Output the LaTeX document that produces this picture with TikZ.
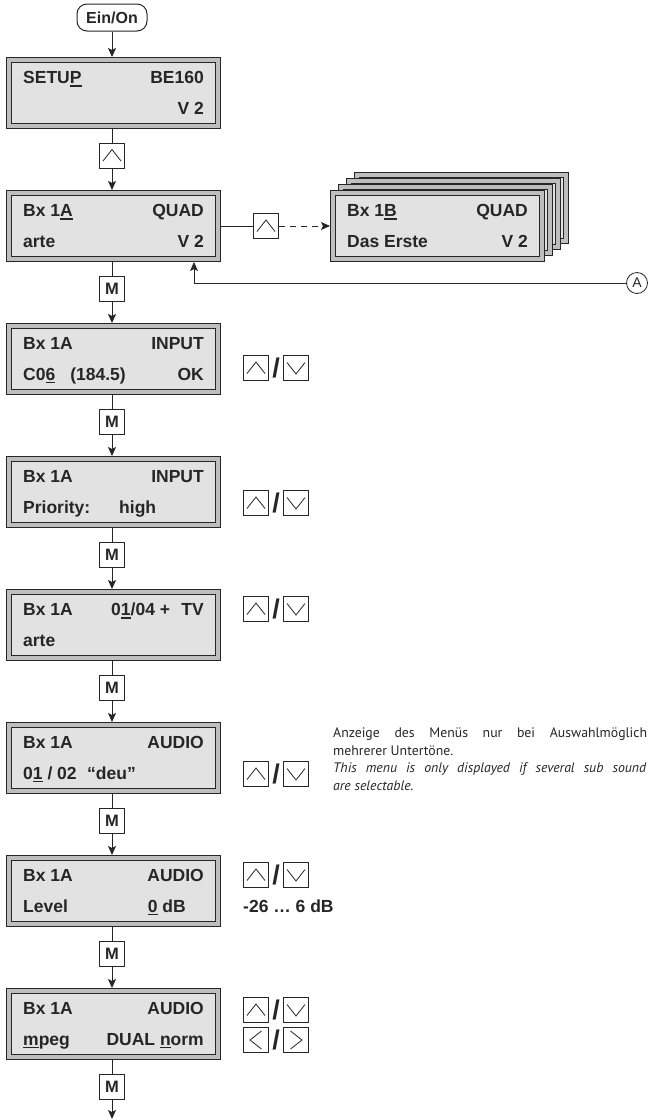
\documentclass[tikz,border=0pt]{standalone}
\usepackage{fontspec}
\setmainfont{Liberation Sans}
\newfontfamily\notefont{PT Sans}
\usetikzlibrary{arrows.meta,positioning}
\definecolor{lcdfill}{RGB}{226,226,226}
\definecolor{lcdrim}{RGB}{190,190,190}
\definecolor{ink}{RGB}{38,38,38}
\newcommand\undl[1]{\setbox0\hbox{#1}\rlap{\rule[-3.4pt]{\wd0}{1.5pt}}\box0\relax}

\begin{document}
\begin{tikzpicture}[x=1pt,y=-1pt,
  lcd/.style={draw=ink,line width=1pt,double=lcdrim,double distance=3.6pt,fill=lcdfill,
    minimum width=209.4pt,minimum height=66.4pt,inner sep=0pt,outer sep=2.8pt},
  txt/.style={font=\fontsize{17.5}{20}\selectfont\bfseries,inner sep=0pt,text=ink},
  key/.style={draw=ink,line width=0.9pt,fill=white,minimum size=25pt,inner sep=0pt,outer sep=0pt,
    font=\fontsize{16.5}{18}\selectfont\bfseries,text=ink},
  upkey/.style={key,path picture={\draw[ink,line width=0.8pt]
    ([shift={(-9pt,-5.5pt)}]path picture bounding box.center) -- ++(9pt,11.5pt) -- ++(9pt,-11.5pt);}},
  dnkey/.style={key,path picture={\draw[ink,line width=0.8pt]
    ([shift={(-9pt,5.5pt)}]path picture bounding box.center) -- ++(9pt,-11.5pt) -- ++(9pt,11.5pt);}},
  lfkey/.style={key,path picture={\draw[ink,line width=0.8pt]
    ([shift={(5.5pt,9pt)}]path picture bounding box.center) -- ++(-11.5pt,-9pt) -- ++(11.5pt,-9pt);}},
  rtkey/.style={key,path picture={\draw[ink,line width=0.8pt]
    ([shift={(-5.5pt,9pt)}]path picture bounding box.center) -- ++(11.5pt,-9pt) -- ++(-11.5pt,-9pt);}},
  slash/.style={font=\fontsize{27}{27}\selectfont\bfseries,inner sep=0pt,text=ink},
  ln/.style={ink,line width=0.9pt},
  arr/.style={ln,-{Stealth[length=9pt,width=8pt,inset=2pt]}},
  note/.style={font=\notefont\fontsize{13.8}{17.6}\selectfont,inner sep=0pt,text=ink},
  inote/.style={note,font=\notefont\itshape\fontsize{13.8}{17.6}\selectfont}]
  \useasboundingbox (0,0) rectangle (648,1120);
  % ---- start key ----
  \node[draw=ink,line width=1pt,rounded corners=10pt,minimum width=70pt,minimum height=27pt,
    inner sep=0pt,font=\fontsize{16}{18}\selectfont\bfseries,text=ink] (on) at (112,17.5) {Ein/On};
  % ---- displays ----
  \foreach \n/\t in {setup/57,bxa/190,inp/323,prio/456,prog/589,aud/722,lev/855,mode/988}
    \node[lcd] (\n) at (113.5,\t+36) {};
  \node[lcd] (bxb3) at (461.5,208) {};
  \node[lcd] (bxb2) at (453.5,214) {};
  \node[lcd] (bxb1) at (445.5,220) {};
  \node[lcd] (bxb) at (437.5,226) {};
  % ---- display texts ----
  \node[txt,anchor=base west] (setup-a) at (23,83.5) {SETU\undl{P}};
  \node[txt,anchor=base east] (setup-b) at (204,83.5) {BE160};
  \node[txt,anchor=base east] (setup-c) at (204,114) {V 2};
  \node[txt,anchor=base west] (bxa-a) at (23,216.5) {Bx 1\undl{A}};
  \node[txt,anchor=base east] (bxa-b) at (204,216.5) {QUAD};
  \node[txt,anchor=base west] (bxa-c) at (23,247) {arte};
  \node[txt,anchor=base east] (bxa-d) at (204,247) {V 2};
  \node[txt,anchor=base west] (bxb-a) at (347,216.5) {Bx 1\undl{B}};
  \node[txt,anchor=base east] (bxb-b) at (528,216.5) {QUAD};
  \node[txt,anchor=base west] (bxb-c) at (347,247) {Das Erste};
  \node[txt,anchor=base east] (bxb-d) at (528,247) {V 2};
  \node[txt,anchor=base west] (inp-a) at (23,349.5) {Bx 1A};
  \node[txt,anchor=base east] (inp-b) at (204,349.5) {INPUT};
  \node[txt,anchor=base west] (inp-c) at (23,380) {C0\undl{6}};
  \node[txt,anchor=base east] (inp-d) at (126,380) {(184.5)};
  \node[txt,anchor=base east] (inp-e) at (204,380) {OK};
  \node[txt,anchor=base west] (prio-a) at (23,482.5) {Bx 1A};
  \node[txt,anchor=base east] (prio-b) at (204,482.5) {INPUT};
  \node[txt,anchor=base west] (prio-c) at (23,513) {Priority:};
  \node[txt,anchor=base west] (prio-d) at (119,513) {high};
  \node[txt,anchor=base west] (prog-a) at (23,615.5) {Bx 1A};
  \node[txt,anchor=base west] (prog-b) at (111,615.5) {0\undl{1}/04 +};
  \node[txt,anchor=base east] (prog-c) at (204,615.5) {TV};
  \node[txt,anchor=base west] (prog-d) at (23,646) {arte};
  \node[txt,anchor=base west] (aud-a) at (23,748.5) {Bx 1A};
  \node[txt,anchor=base east] (aud-b) at (204,748.5) {AUDIO};
  \node[txt,anchor=base west] (aud-c) at (23,779) {0\undl{1} / 02};
  \node[txt,anchor=base west] (aud-d) at (87,779) {“deu”};
  \node[txt,anchor=base west] (lev-a) at (23,881.5) {Bx 1A};
  \node[txt,anchor=base east] (lev-b) at (204,881.5) {AUDIO};
  \node[txt,anchor=base west] (lev-c) at (23,912) {Level};
  \node[txt,anchor=base east] (lev-d) at (186,912) {\undl{0} dB};
  \node[txt,anchor=base west] (mode-a) at (23,1014.5) {Bx 1A};
  \node[txt,anchor=base east] (mode-b) at (204,1014.5) {AUDIO};
  \node[txt,anchor=base west] (mode-c) at (23,1045) {\undl{m}peg};
  \node[txt,anchor=base east] (mode-d) at (204,1045) {DUAL \undl{n}orm};
  % ---- keys in the main chain ----
  \node[upkey] (k1) at (112,155.5) {};
  \foreach \n/\y in {k2/288.5,k3/421.5,k4/554.5,k5/687.5,k6/820.5,k7/953.5,k8/1086.5}
    \node[key] (\n) at (112,\y) {M};
  \coordinate (end) at (112,1119);
  % ---- chain connectors ----
  \draw[arr] (on) -- (on |- setup.north);
  \draw[ln] (setup.south -| k1) -- (k1);
  \draw[arr] (k1) -- (k1 |- bxa.north);
  \draw[ln] (bxa.south -| k2) -- (k2);
  \draw[arr] (k2) -- (k2 |- inp.north);
  \draw[ln] (inp.south -| k3) -- (k3);
  \draw[arr] (k3) -- (k3 |- prio.north);
  \draw[ln] (prio.south -| k4) -- (k4);
  \draw[arr] (k4) -- (k4 |- prog.north);
  \draw[ln] (prog.south -| k5) -- (k5);
  \draw[arr] (k5) -- (k5 |- aud.north);
  \draw[ln] (aud.south -| k6) -- (k6);
  \draw[arr] (k6) -- (k6 |- lev.north);
  \draw[ln] (lev.south -| k7) -- (k7);
  \draw[arr] (k7) -- (k7 |- mode.north);
  \draw[ln] (mode.south -| k8) -- (k8);
  \draw[arr] (k8) -- (end);
  % ---- branch to Bx 1B ----
  \node[upkey] (kbr) at (266,226) {};
  \draw[ln] (bxa.east) -- (kbr);
  \draw[arr,dash pattern=on 6pt off 5pt] (kbr) -- (bxb.west);
  % ---- return from A ----
  \node[draw=ink,circle,line width=0.8pt,minimum size=21pt,inner sep=0pt,
    font=\fontsize{14}{14}\selectfont,text=ink] (retA) at (637,283) {A};
  \coordinate (ret) at (194,283);
  \draw[arr] (retA) -- (ret) -- (ret |- bxa.south);
  % ---- side keys ----
  \foreach \n/\y in {inp/368,prio/503,prog/609,aud/774,lev/875,mode/1010}{
    \node[upkey] (\n-up) at (256,\y) {};
    \node[slash] (\n-sl) at (276,\y) {/};
    \node[dnkey] (\n-dn) at (296,\y) {};}
  \node[lfkey] (mode-lf) at (256,1040) {};
  \node[slash] (mode-sl2) at (276,1040) {/};
  \node[rtkey] (mode-rt) at (296,1040) {};
  \node[txt,anchor=base west] (range) at (243,912) {-26 … 6 dB};
  % ---- note (justified lines) ----
  \node[note,anchor=base west] (note1) at (333,737.5)
    {\makebox[314pt][s]{Anzeige des Menüs nur bei Auswahlmöglich}};
  \node[note,anchor=base west] (note2) at (333,755) {mehrerer Untertöne.};
  \node[inote,anchor=base west] (note3) at (333,772.5)
    {\makebox[313pt][s]{This menu is only displayed if several sub sound}};
  \node[inote,anchor=base west] (note4) at (333,790) {are selectable.};
\end{tikzpicture}
\end{document}
